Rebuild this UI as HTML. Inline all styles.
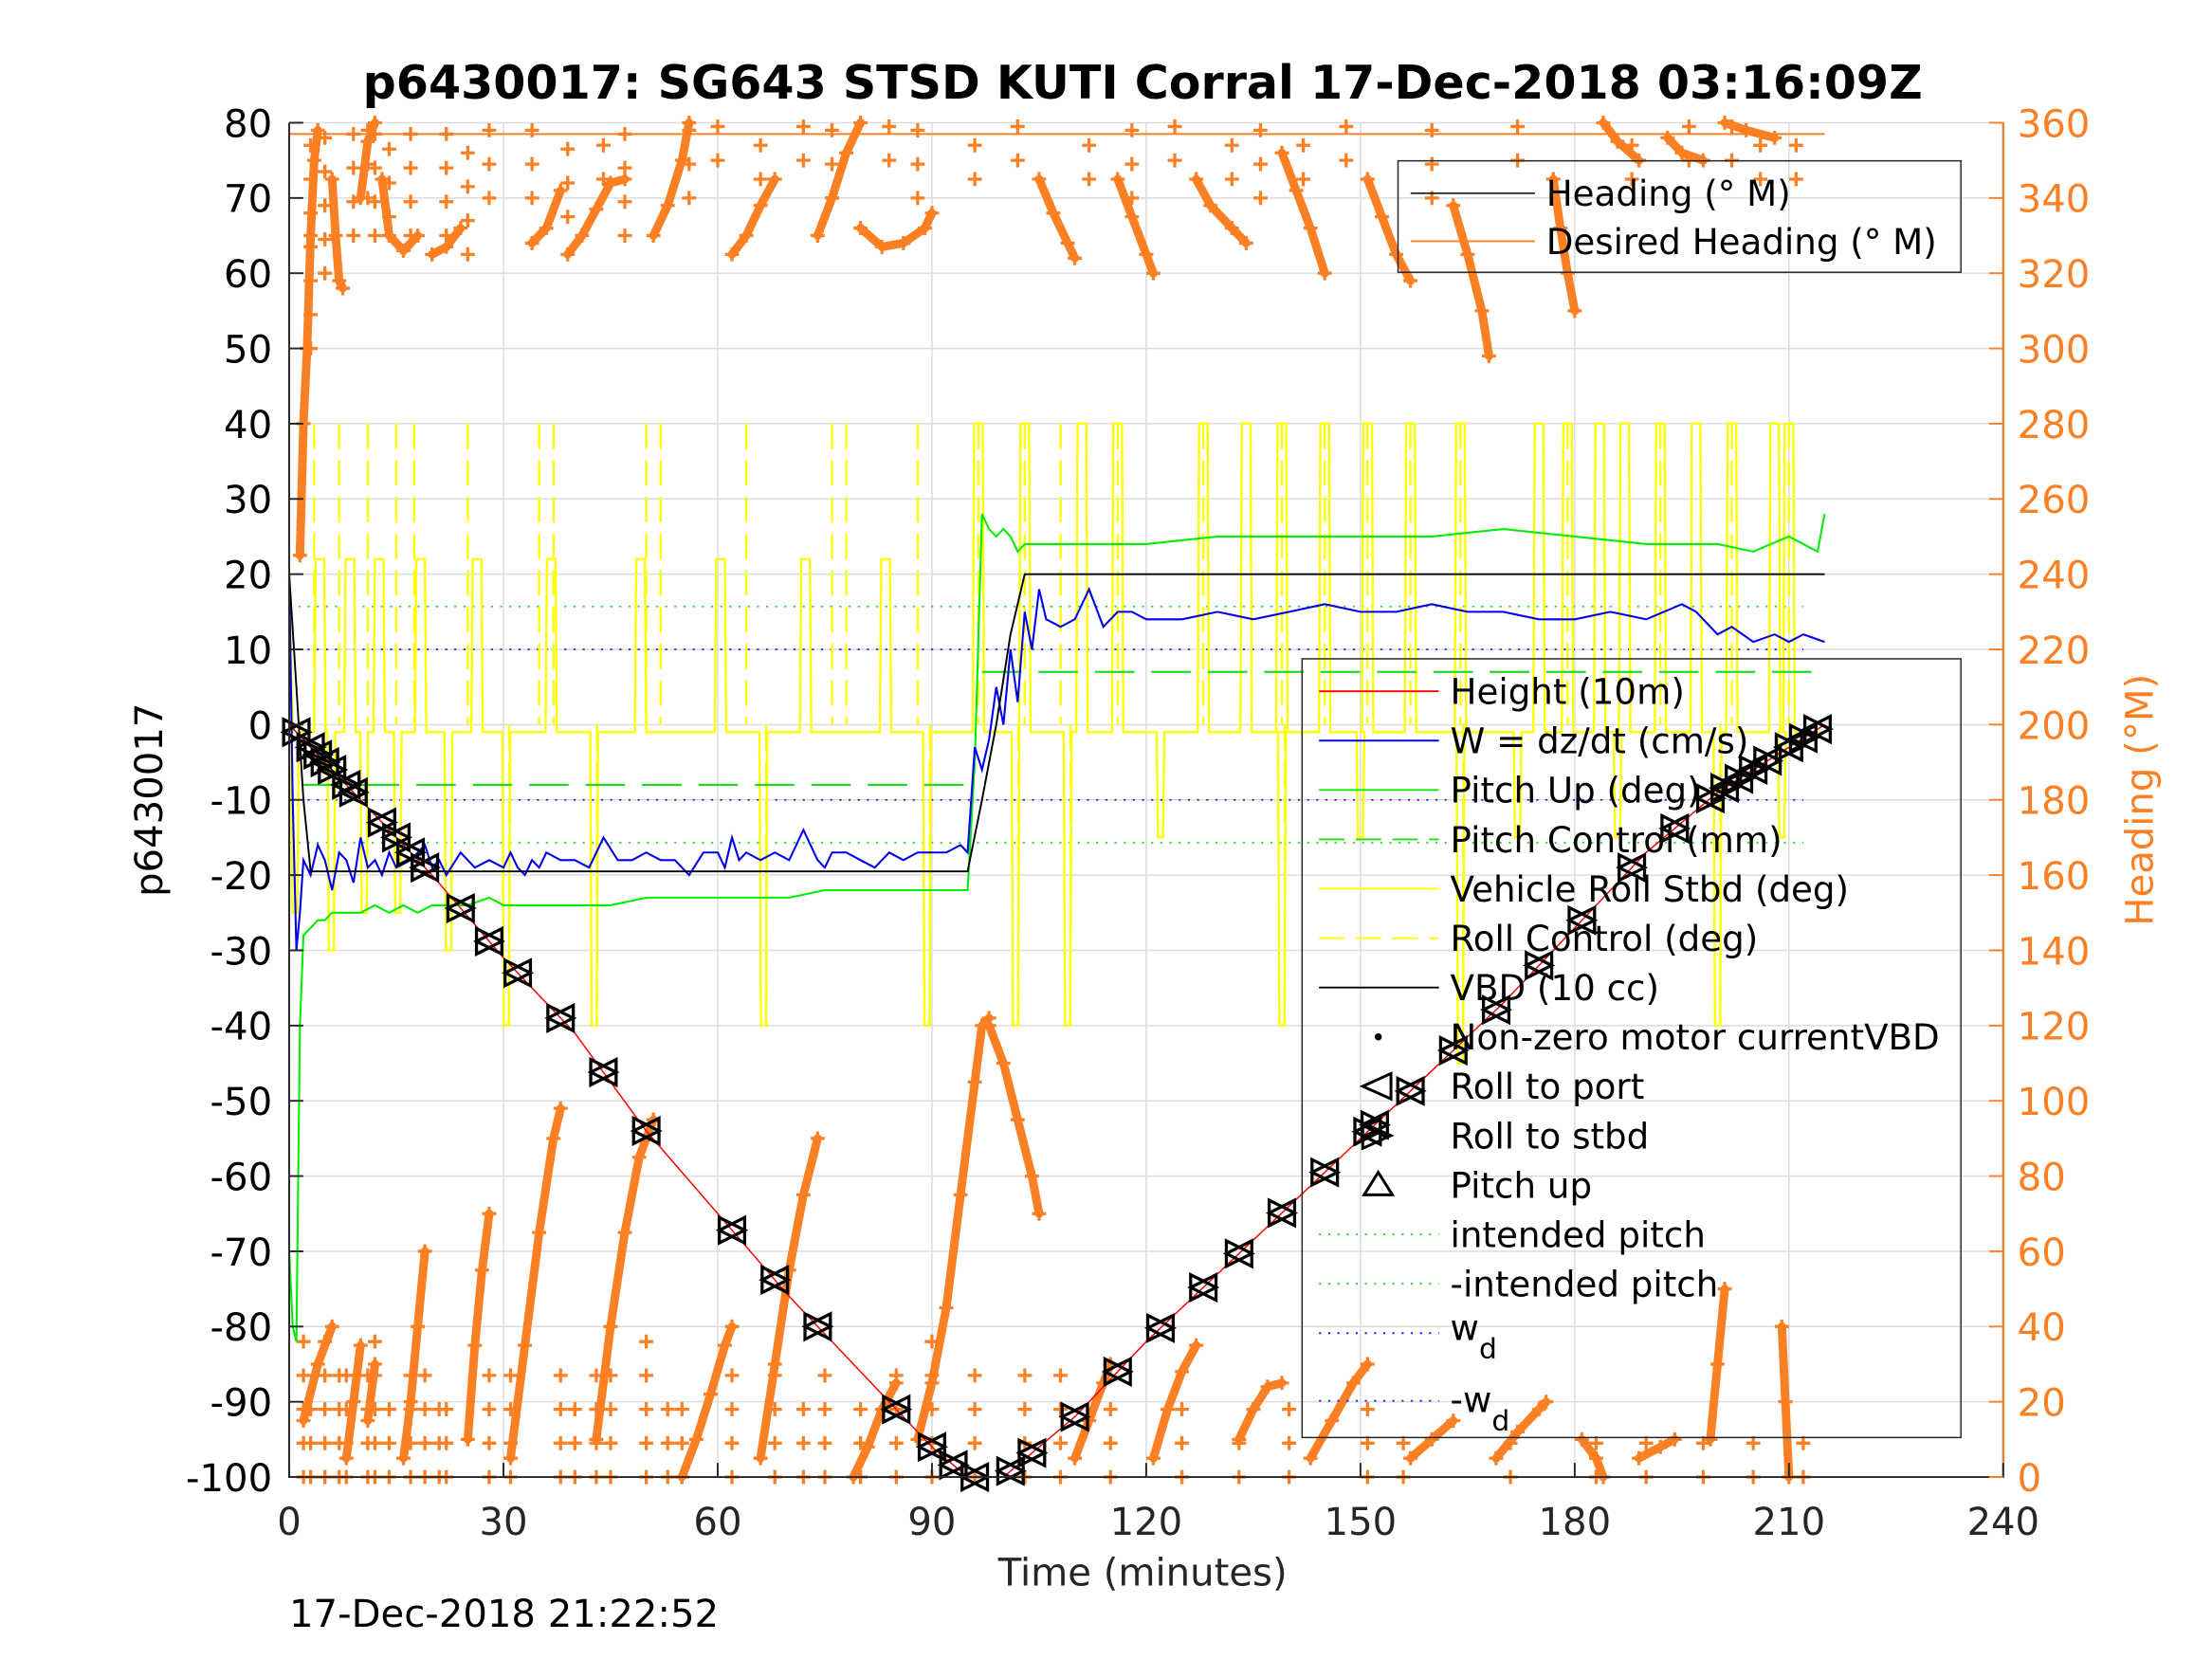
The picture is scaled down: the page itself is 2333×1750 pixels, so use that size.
<!DOCTYPE html>
<html><head><meta charset="utf-8"><style>
html,body{margin:0;padding:0;background:#fff;}
svg{display:block;font-family:"DejaVu Sans","Liberation Sans",sans-serif;}
</style></head><body>
<svg id="chart" width="2333" height="1750" viewBox="0 0 1568 1176" preserveAspectRatio="none" xmlns="http://www.w3.org/2000/svg">
<rect x="0" y="0" width="1568" height="1176" fill="#fff"/>
<g id="grid"></g><g id="series"></g><g id="axes"></g><g id="legends"></g>
</svg>
<script>
// ---- data ----
const xTicks=[0,30,60,90,120,150,180,210,240];
const yLeftTicks=[-100,-90,-80,-70,-60,-50,-40,-30,-20,-10,0,10,20,30,40,50,60,70,80];
const yRightTicks=[0,20,40,60,80,100,120,140,160,180,200,220,240,260,280,300,320,340,360];
const depthT=[0,5,10,20,30,40,50,60,70,80,85,90,95,100,105,110,120,130,140,150,160,170,180,190,200,210,215];
const depthV=[0,-5,-10,-20,-31,-41,-54,-65,-76,-86,-91,-96,-100,-100,-96,-92,-82,-73,-64,-55,-46,-37,-27,-17,-9,-3,0];
const markerT=[1,3,4,5,6,8,9,13,15,17,19,24,28,32,38,44,50,62,68,74,85,90,93,96,101,104,110,116,122,128,133,139,145,151,152,157,163,169,175,181,188,194,199,201,203,205,207,210,212,214];
const vbdT=[0,1,2,3,95,97,99,101,103,215];
const vbdV=[20,5,-10,-19.5,-19.5,-10,0,12,20,20];
const wT=[0,0.5,1,1.5,2,3,4,5,6,7,8,9,10,11,12,13,14,15,17,19,20,21,22,24,26,28,30,31,32,33,34,35,36,38,40,42,44,46,48,50,52,54,56,58,60,61,62,63,64,66,68,70,72,74,75,76,78,80,82,84,86,88,90,92,94,95,96,97,98,99,100,101,102,103,104,105,106,108,110,112,114,116,118,120,125,130,135,140,145,150,155,160,165,170,175,180,185,190,195,197,200,202,205,208,210,212,215];
const wV=[20,-10,-30,-25,-18,-20,-16,-18,-22,-17,-18,-21,-15,-19,-18,-20,-17,-19,-18,-16,-19,-18,-20,-17,-19,-18,-19,-17,-19,-20,-18,-19,-17,-18,-18,-19,-15,-18,-18,-17,-18,-18,-20,-17,-17,-19,-15,-18,-17,-18,-17,-18,-14,-18,-19,-17,-17,-18,-19,-17,-18,-17,-17,-17,-16,-17,-3,-6,-2,5,0,10,3,15,10,18,14,13,14,18,13,15,15,14,14,15,14,15,16,15,15,16,15,15,14,14,15,14,16,15,12,13,11,12,11,12,11];
const pitchT=[0,0.5,1,1.5,2,3,4,5,6,8,10,12,14,16,18,20,22,25,28,30,35,40,45,50,55,60,65,70,75,80,85,90,94,95,96,97,98,99,100,101,102,103,105,110,120,130,140,150,160,170,180,190,200,205,210,214,215];
const pitchV=[-70,-80,-82,-40,-28,-27,-26,-26,-25,-25,-25,-24,-25,-24,-25,-24,-24,-24,-23,-24,-24,-24,-24,-23,-23,-23,-23,-23,-22,-22,-22,-22,-22,-22,-5,28,26,25,26,25,23,24,24,24,24,25,25,25,25,26,25,24,24,23,25,23,28];
const pitchCtlT=[2,95,97,215];
const pitchCtlV=[-8,-8,7,7];
const rollUpT=[4.3,8.5,12.6,18.4,26.3,36.7,49.2,60.4,72.3,83.5,96.5,103,111,116,128,134,139,145,151,157,164,175,179,183.5,187,192,197,202,208,210];
const rollUpV=[22,22,22,22,22,22,22,22,22,22,40,40,40,40,40,40,40,40,40,40,40,40,40,40,40,40,40,40,40,40];
const rollDnT=[0.8,5.9,10.5,15.2,22.3,30.4,42.7,66.4,89.3,101.7,109,122,139,150,164,172,186,200,209];
const rollDnV=[-25,-30,-25,-25,-30,-40,-40,-40,-40,-40,-40,-15,-40,-15,-45,-15,-15,-40,-15];
const rollCtlT=[3.5,7,11,15,17.5,25,35,37,50,52,64,76,78,88,96.5,103,108,116,128,139,145,151,157,164,179,192,202,210];
const headStrokes=[
 [[1.5,245],[2,280],[2.5,300],[3,330],[3.5,350],[4,358]],
 [[6,345],[6.5,330],[7,318],[7.5,316]],
 [[10,340],[11,355],[12,360]],
 [[13,345],[14,330],[16,326],[18,330]],
 [[20,325],[22,327],[24,332]],
 [[34,328],[36,332],[38,342]],
 [[39,325],[41,330],[43,337],[45,344],[47,345]],
 [[51,330],[53,338],[55,350],[56,360]],
 [[62,325],[64,330],[66,338],[68,345]],
 [[74,330],[76,340],[78,352],[80,360]],
 [[80,332],[83,327],[86,328],[89,332],[90,336]],
 [[105,345],[107,336],[109,328],[110,324]],
 [[116,345],[118,335],[120,325],[121,320]],
 [[127,345],[129,338],[132,332],[134,328]],
 [[139,352],[141,342],[143,332],[145,320]],
 [[151,345],[153,335],[155,325],[157,318]],
 [[163,338],[165,325],[167,310],[168,298]],
 [[177,345],[178,332],[179,320],[180,310]],
 [[184,360],[186,355],[189,350]],
 [[193,356],[195,352],[198,350]],
 [[201,360],[204,358],[208,356]],
 [[16,5],[17,20],[18,40],[19,60]],
 [[25,10],[26,35],[27,55],[28,70]],
 [[31,5],[33,35],[35,65],[37,90],[38,98]],
 [[43,10],[45,40],[47,65],[49,85],[51,95]],
 [[55,0],[57,10],[59,22],[61,35],[62,40]],
 [[66,5],[68,30],[70,55],[72,75],[74,90]],
 [[79,0],[81,8],[83,18],[85,25]],
 [[88,10],[90,25],[92,45],[94,75],[96,105],[97,120],[98,122]],
 [[98,120],[100,110],[102,95],[104,80],[105,70]],
 [[110,5],[112,15],[114,25],[115,30]],
 [[121,5],[123,18],[125,28],[127,35]],
 [[133,10],[135,18],[137,24],[139,25]],
 [[143,5],[146,15],[149,25],[151,30]],
 [[157,5],[160,10],[163,15]],
 [[169,5],[172,12],[175,18],[176,20]],
 [[181,10],[183,5],[184,0]],
 [[189,5],[192,8],[194,10]],
 [[199,10],[200,30],[201,50]],
 [[209,40],[209.5,20],[210,0]],
 [[2,15],[4,30],[6,40]],[[8,5],[9,20],[10,35]],[[11,15],[12,30]]
];
const headColT=[2,3,5,7,8,11,12,14,17,19,21,22,28,31,38,40,43,45,50,53,55,62,68,72,75,80,85,90,96,103,108,115,125,133,140,151,156,171,183,190,198,205,212];
const headColLo=[0,0,0,0,0,0,0,0,0,0,0,0,0,0,0,0,0,0,0,0,0,0,0,0,0,0,0,0,0,0,0,0,0,0,0,0,0,0,0,0,0,0,0];
const headColHi=[40,20,40,30,35,30,40,25,30,35,20,25,30,30,35,25,30,30,40,20,25,30,35,25,35,20,35,40,30,30,30,20,20,15,25,20,15,15,10,10,15,10,10];
const headTopColT=[3,5,9,11,12,14,17,22,25,28,34,39,44,47,56,60,66,72,76,84,88,96,102,112,118,124,132,136,142,148,160,172,188,196,202,206,211];
const headTopColLo=[300,320,330,340,330,335,330,330,325,340,340,335,345,330,340,350,345,350,340,350,340,345,350,345,340,350,345,340,345,350,340,350,345,350,350,345,345];
// ---- scales ----
const X0=205,X1=1420,Y0=1047,Y1=87;
function xs(t){return X0+t*(X1-X0)/240;}
function yl(v){return Y0-(v+100)*(Y0-Y1)/180;}
function yr(h){return Y0-h*(Y0-Y1)/360;}
const NS="http://www.w3.org/2000/svg";
function mk(tag,attrs,parent){const e=document.createElementNS(NS,tag);for(const k in attrs)e.setAttribute(k,attrs[k]);parent.appendChild(e);return e;}
const grid=document.getElementById('grid'),series=document.getElementById('series'),axes=document.getElementById('axes'),leg=document.getElementById('legends');
const ORANGE="#fb7f23";
xTicks.forEach(t=>{const l=mk('line',{x1:xs(t),x2:xs(t),y1:Y1,y2:Y0,stroke:'#dcdcdc','stroke-width':1},grid);

});
yLeftTicks.forEach(v=>{const l=mk('line',{x1:X0,x2:X1,y1:yl(v),y2:yl(v),stroke:'#dcdcdc','stroke-width':1},grid);

});
function poly(ts,vs,fy,attrs,name){const pts=ts.map((t,i)=>xs(t).toFixed(1)+','+fy(vs[i]).toFixed(1)).join(' ');const p=mk('polyline',Object.assign({points:pts,fill:'none'},attrs),series);

return p;}
[[15.7,'#22dd22','intended-pitch-line'],[-15.7,'#22dd22','neg-intended-pitch-line'],[10,'#2222ff','wd-line'],[-10,'#2222ff','neg-wd-line']].forEach(r=>{
 poly([0,212],[r[0],r[0]],yl,{stroke:r[1],'stroke-width':1.2,'stroke-dasharray':'1.5 5'},r[2]);});
headStrokes.forEach(s=>{const pts=s.map(p=>xs(p[0]).toFixed(1)+','+yr(p[1]).toFixed(1)).join(' ');
 const pl=mk('polyline',{points:pts,fill:'none',stroke:ORANGE,'stroke-width':6,'stroke-linecap':'round'},series);
 
 });
function plus(t,h,name){const x=xs(t),y=yr(h);const p=mk('path',{d:`M${x-5},${y}H${x+5}M${x},${y-5}V${y+5}`,stroke:ORANGE,'stroke-width':2.2},series);
 
 }
headStrokes.forEach(s=>s.forEach(p=>plus(p[0],p[1],'heading-point')));
headColT.forEach((t,i)=>{for(let h=headColLo[i];h<=headColHi[i];h+=9)plus(t,h,'heading-point');});
headTopColT.forEach((t,i)=>{for(let h=headTopColLo[i];h<=360;h+=9)plus(t,h,'heading-point');});
poly([0,215],[357,357],yr,{stroke:ORANGE,'stroke-width':1.3},'desired-heading-line');
rollCtlT.forEach(t=>{poly([t,t],[40,0],yl,{stroke:'#ffff00','stroke-width':1.6,'stroke-dasharray':'18 8'},'roll-control-line');});
rollDnT.forEach((t,i)=>{if(rollDnV[i]<=-40)poly([t+0.4,t+0.4],[0,-40],yl,{stroke:'#ffff00','stroke-width':1.6,'stroke-dasharray':'18 8'},'roll-control-line');});
(function(){const ev=[];rollUpT.forEach((t,i)=>ev.push([t,rollUpV[i]]));rollDnT.forEach((t,i)=>ev.push([t,rollDnV[i]]));ev.sort((a,b)=>a[0]-b[0]);
 const ts=[0],vs=[20];ts.push(0.5);vs.push(-1);
 ev.forEach(e=>{const w=e[1]>0?0.6:0.35;ts.push(e[0]-w-0.2,e[0]-w,e[0]+w,e[0]+w+0.2);vs.push(-1,e[1],e[1],-1);});
 ts.push(215);vs.push(-1);poly(ts,vs,yl,{stroke:'#ffff00','stroke-width':1.6},'vehicle-roll-line');})();
poly(pitchCtlT.slice(0,2),pitchCtlV.slice(0,2),yl,{stroke:'#22dd22','stroke-width':1.5,'stroke-dasharray':'28 12'},'pitch-control-line');
poly(pitchCtlT.slice(2),pitchCtlV.slice(2),yl,{stroke:'#22dd22','stroke-width':1.5,'stroke-dasharray':'28 12'},'pitch-control-line');
poly(pitchT,pitchV,yl,{stroke:'#00ee00','stroke-width':1.4},'pitch-up-line');
poly(wT,wV,yl,{stroke:'#0000ee','stroke-width':1.4},'w-line');
poly(vbdT,vbdV,yl,{stroke:'#000','stroke-width':1.3},'vbd-line');
poly(depthT,depthV,yl,{stroke:'#ff0000','stroke-width':1},'height-line');
function interp(t){for(let i=1;i<depthT.length;i++){if(t<=depthT[i]){const f=(t-depthT[i-1])/(depthT[i]-depthT[i-1]);return depthV[i-1]+f*(depthV[i]-depthV[i-1]);}}return 0;}
markerT.forEach((t,i)=>{const x=xs(t),y=yl(interp(t));const s=9;
 const a=mk('path',{d:`M${x-s},${y}L${x+s},${y-s}L${x+s},${y+s}Z`,fill:'none',stroke:'#000','stroke-width':2.2},series);
 
 
 const b=mk('path',{d:`M${x+s},${y}L${x-s},${y-s}L${x-s},${y+s}Z`,fill:'none',stroke:'#000','stroke-width':2.2},series);
 
 });
const box=mk('path',{d:`M${X0},${Y1}V${Y0}H${X1}V${Y1}`,fill:'none',stroke:'#262626','stroke-width':1.3},axes);


const rax=mk('line',{x1:X1,x2:X1,y1:Y1,y2:Y0,stroke:ORANGE,'stroke-width':1.3},axes);


function txt(x,y,s,attrs,name){const e=mk('text',Object.assign({x:x,y:y},attrs),axes);e.textContent=s;
 
 return e;}
xTicks.forEach(t=>{mk('line',{x1:xs(t),x2:xs(t),y1:Y0,y2:Y0-10,stroke:'#262626','stroke-width':1.3},axes);
 txt(xs(t),1088,String(t),{'font-size':27,'text-anchor':'middle',fill:'#262626'},'x-tick-label');});
yLeftTicks.forEach(v=>{mk('line',{x1:X0,x2:X0+10,y1:yl(v),y2:yl(v),stroke:'#262626','stroke-width':1.3},axes);
 txt(193,yl(v)+10,String(v),{'font-size':27,'text-anchor':'end',fill:'#000'},'y-left-tick-label');});
yRightTicks.forEach(h=>{mk('line',{x1:X1,x2:X1-10,y1:yr(h),y2:yr(h),stroke:ORANGE,'stroke-width':1.3},axes);
 txt(1430,yr(h)+10,String(h),{'font-size':27,'text-anchor':'start',fill:ORANGE},'y-right-tick-label');});
txt(810,70,'p6430017: SG643 STSD KUTI Corral 17-Dec-2018 03:16:09Z',{'font-size':33,'font-weight':'bold','text-anchor':'middle',fill:'#000'},'chart-title');
txt(810,1124,'Time (minutes)',{'font-size':27,'text-anchor':'middle',fill:'#262626'},'x-axis-title');
txt(205,1153,'17-Dec-2018 21:22:52',{'font-size':27,'text-anchor':'start',fill:'#000'},'timestamp-label');
txt(0,0,'p6430017',{'font-size':27,'text-anchor':'middle',fill:'#000',transform:'translate(115,567) rotate(-90)'},'y-left-axis-title');
txt(0,0,'Heading (°M)',{'font-size':27,'text-anchor':'middle',fill:ORANGE,transform:'translate(1526,567) rotate(-90)'},'y-right-axis-title');
function lbox(x,y,w,h,name){const r=mk('rect',{x:x,y:y,width:w,height:h,fill:'none',stroke:'#262626','stroke-width':1},leg);
 
 }
function ltxt(x,y,s,name){const e=mk('text',{x:x,y:y,'font-size':25,fill:'#000'},leg);e.textContent=s;
 
 return e;}
lbox(991,114,399,79,'heading-legend');
mk('line',{x1:1000,x2:1088,y1:137,y2:137,stroke:'#000','stroke-width':1},leg);
ltxt(1096,146,'Heading (° M)','legend-entry-heading');
mk('line',{x1:1000,x2:1088,y1:171,y2:171,stroke:ORANGE,'stroke-width':1.3},leg);
ltxt(1096,180,'Desired Heading (° M)','legend-entry-desired-heading');
lbox(923,467,467,552,'series-legend');
const L=[['Height (10m)','#ff0000',''],['W = dz/dt (cm/s)','#0000ee',''],['Pitch Up (deg)','#00ee00',''],['Pitch Control (mm)','#22dd22','18 8'],['Vehicle Roll Stbd (deg)','#ffff00',''],['Roll Control (deg)','#ffff00','18 8'],['VBD (10 cc)','#000',''],['Non-zero motor currentVBD','dot',''],['Roll to port','lt',''],['Roll to stbd','rt',''],['Pitch up','up',''],['intended pitch','#22dd22','1.5 5'],['-intended pitch','#22dd22','1.5 5']];
L.forEach((e,i)=>{const y=490+i*35;
 if(e[1]==='dot'){mk('circle',{cx:977,cy:y,r:2.5,fill:'#000'},leg);}
 else if(e[1]==='lt'){mk('path',{d:`M966,${y}L986,${y-9}L986,${y+9}Z`,fill:'none',stroke:'#000','stroke-width':2},leg);}
 else if(e[1]==='rt'){mk('path',{d:`M986,${y}L966,${y-9}L966,${y+9}Z`,fill:'none',stroke:'#000','stroke-width':2},leg);}
 else if(e[1]==='up'){mk('path',{d:`M977,${y-9}L987,${y+7}L967,${y+7}Z`,fill:'none',stroke:'#000','stroke-width':2},leg);}
 else {const a={x1:935,x2:1020,y1:y,y2:y,stroke:e[1],'stroke-width':1.3};if(e[2])a['stroke-dasharray']=e[2];mk('line',a,leg);}
 ltxt(1028,y+9,e[0],'legend-entry');});
mk('line',{x1:935,x2:1020,y1:945,y2:945,stroke:'#2222ff','stroke-width':1.3,'stroke-dasharray':'1.5 5'},leg);
const wd=ltxt(1028,950,'w','legend-entry-wd');const s1=mk('tspan',{dy:13,'font-size':20},wd);s1.textContent='d';
mk('line',{x1:935,x2:1020,y1:993,y2:993,stroke:'#2222ff','stroke-width':1.3,'stroke-dasharray':'1.5 5'},leg);
const nwd=ltxt(1028,1001,'-w','legend-entry-neg-wd');const s2=mk('tspan',{dy:13,'font-size':20},nwd);s2.textContent='d';
</script>
</body></html>
